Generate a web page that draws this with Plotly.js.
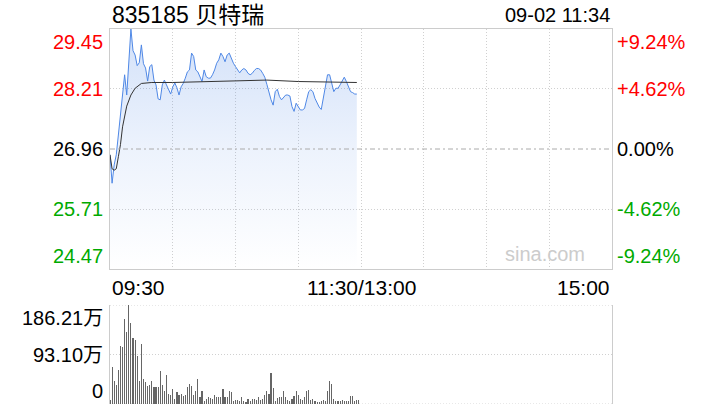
<!DOCTYPE html>
<html>
<head>
<meta charset="utf-8">
<script src="https://cdn.plot.ly/plotly-3.0.1.min.js"></script>
<style>
html,body{margin:0;padding:0;background:#fff;}
#chart{width:720px;height:420px;}
</style>
</head>
<body>
<div id="chart"></div>
<script>
// ---- data ----
const titleText = "835185 贝特瑞";
const stampText = "09-02 11:34";
const timeLabels = ["09:30", "11:30/13:00", "15:00"];
const priceTicks = [29.45, 28.21, 26.96, 25.71, 24.47];
const pctTicks = ["+9.24%", "+4.62%", "0.00%", "-4.62%", "-9.24%"];
const volTicks = [186.21, 93.10, 0];
const volTickLabels = ["186.21万", "93.10万", "0"];
const prevClose = 26.96;

const price = [26.84,26.25,26.63,26.84,27.25,27.67,28.15,28.5,28.08,28.84,
  29.45,29.0,28.91,28.69,28.75,29.12,28.73,28.64,28.37,28.67,
  28.71,28.39,28.29,28.0,27.98,28.29,28.39,28.29,28.18,28.1,
  28.25,28.33,28.23,28.08,28.25,28.32,28.43,28.56,28.6,28.95,
  28.88,28.6,28.56,28.46,28.36,28.6,28.46,28.43,28.43,28.5,
  28.6,28.74,28.81,28.95,28.88,28.77,28.91,28.95,28.84,28.74,
  28.67,28.6,28.54,28.6,28.63,28.6,28.53,28.5,28.53,28.59,
  28.63,28.63,28.6,28.53,28.45,28.3,28.12,27.98,27.87,28.15,
  28.2,28.05,27.98,28.03,28.08,28.08,28.06,27.84,27.74,27.91,
  27.83,27.77,27.77,27.8,27.98,28.15,28.19,28.15,28.01,27.91,
  27.83,27.78,28.05,28.29,28.5,28.5,28.32,28.15,28.22,28.22,
  28.29,28.36,28.45,28.36,28.25,28.15,28.13,28.1,28.1];

const avgMinutes = [0,1,2,3,4,5,6,7,8,10,12,15,20,30,45,60,75,90,105,118];
const avgPrice = [26.84,26.55,26.52,26.55,26.8,27.05,27.42,27.65,27.85,28.08,28.22,28.32,28.34,28.34,28.36,28.385,28.39,28.36,28.35,28.34];

const volume = [8.1,68.8,42.5,35,64.4,109.4,107.5,160,136.3,186.2,
  152.5,123.8,120.6,89.4,43.8,113.1,47.5,41.3,33.1,35.6,
  42.5,31.3,32.5,32.5,62.5,36.3,25,55,18.8,17.5,
  28.8,10,23.1,16.9,19.4,14.4,16.3,32.5,37.5,33.1,
  16.3,24.4,47.5,13.8,23.8,6.3,10,13.8,11.3,10,
  16.3,13.8,13.8,13.8,28.8,13.8,13.8,23.8,21.9,6.3,
  6.9,8.1,6.3,13.8,6.3,3.8,8.8,6.3,8.8,10,
  8.1,13.8,8.1,8.8,16.3,25,18.8,58.8,30,6.3,
  11.3,13.8,13.8,23.8,13.8,8.1,6.3,9.4,15.6,25,
  16.3,9.4,8.1,12.5,23.8,26.9,8.1,8.8,5,3.1,
  3.8,6.3,6.9,6.3,23.8,43.8,37.5,9.4,5,6.3,
  5,8.1,5,5,6.3,15.6,15.6,6.3,6.9,8.1];

// ---- build ----
const minutes = price.map((_, i) => i);
const volMinutes = volume.map((_, i) => i);
const RED = "#f00", GREEN = "#0a0", BLACK = "#000";
const FONT = "Liberation Sans, Arial, Noto Sans CJK SC, sans-serif";
const labelColors = [RED, RED, BLACK, GREEN, GREEN];
const GRID = "#d0d0d0";
const DOTS = "1px,2px";

const traces = [
  {
    x: minutes, y: price, type: "scatter", mode: "lines",
    line: {color: "#4f88e6", width: 1},
    fill: "tozeroy",
    fillgradient: {
      type: "vertical",
      start: priceTicks[4], stop: priceTicks[0],
      colorscale: [[0, "rgba(70,130,230,0.0)"], [0.5, "rgba(70,130,230,0.1)"], [1, "rgba(70,130,230,0.24)"]]
    },
    hoverinfo: "skip", xaxis: "x", yaxis: "y"
  },
  {
    x: avgMinutes, y: avgPrice, type: "scatter", mode: "lines",
    line: {color: "#333", width: 1},
    hoverinfo: "skip", xaxis: "x", yaxis: "y"
  },
  {
    x: volMinutes, y: volume, type: "bar",
    marker: {color: "#666", line: {width: 0}},
    width: 0.55,
    hoverinfo: "skip", xaxis: "x2", yaxis: "y2"
  }
];

const annotations = [];
priceTicks.forEach((v, i) => {
  const ya = i === 0 ? "top" : (i === priceTicks.length - 1 ? "bottom" : "middle");
  annotations.push({xref: "paper", yref: "y", x: 0, y: v, xanchor: "right", yanchor: ya, xshift: -5,
    text: v.toFixed(2), showarrow: false, font: {family: FONT, size: 20, color: labelColors[i]}});
  annotations.push({xref: "paper", yref: "y", x: 1, y: v, xanchor: "left", yanchor: ya, xshift: 3,
    text: pctTicks[i], showarrow: false, font: {family: FONT, size: 20, color: labelColors[i]}});
});
volTicks.forEach((v, i) => {
  const ya = i === 0 ? "top" : (i === volTicks.length - 1 ? "bottom" : "middle");
  annotations.push({xref: "paper", yref: "y2", x: 0, y: v, xanchor: "right", yanchor: ya, xshift: -5,
    text: volTickLabels[i], showarrow: false, font: {family: FONT, size: 20, color: BLACK}});
});
const tl = [[0, "left"], [0.5, "center"], [1, "right"]];
timeLabels.forEach((t, i) => {
  annotations.push({xref: "paper", yref: "paper", x: tl[i][0], y: 1 - 287/420, xanchor: tl[i][1], yanchor: "middle",
    text: t, showarrow: false, font: {family: FONT, size: 21, color: BLACK}});
});
annotations.push({xref: "paper", yref: "paper", x: 0, y: 1 - 15/420, xanchor: "left", yanchor: "middle",
  text: titleText, showarrow: false, font: {family: FONT, size: 23, color: BLACK}});
annotations.push({xref: "paper", yref: "paper", x: 1, y: 1 - 15/420, xanchor: "right", yanchor: "middle",
  text: stampText, showarrow: false, font: {family: FONT, size: 20, color: BLACK}});
annotations.push({xref: "paper", yref: "paper", x: (545 - 110) / 502, y: 1 - 254/420, xanchor: "center", yanchor: "middle",
  text: "sina.com", showarrow: false, font: {family: FONT, size: 20, color: "#ccc"}});

const shapes = [
  {type: "line", xref: "paper", yref: "y", x0: 0, x1: 1, y0: prevClose, y1: prevClose, layer: "above",
    line: {color: "#aaa", width: 1, dash: "5px,3px,2px,3px"}},
];
volTicks.forEach(v => {
  shapes.push({type: "line", xref: "paper", yref: "y2", x0: 0, x1: 1, y0: v, y1: v, layer: "below",
    line: {color: GRID, width: 1, dash: DOTS}});
});

const layout = {
  width: 720, height: 420,
  margin: {l: 110, r: 108, t: 0, b: 0, pad: 0},
  paper_bgcolor: "#fff", plot_bgcolor: "#fff",
  showlegend: false, hovermode: false,
  xaxis: {domain: [0, 1], anchor: "y", range: [0, 240], tickvals: [30, 60, 90, 120, 150, 180, 210],
    showticklabels: false, ticks: "", showgrid: true, gridcolor: GRID, griddash: DOTS, gridwidth: 1,
    zeroline: false, showline: true, mirror: true, linecolor: "#ccc", linewidth: 1, fixedrange: true},
  yaxis: {domain: [1 - 269/420, 1 - 29/420], anchor: "x", range: [priceTicks[4], priceTicks[0]],
    tickvals: [priceTicks[1], priceTicks[3]], showticklabels: false, ticks: "",
    showgrid: true, gridcolor: GRID, griddash: DOTS, gridwidth: 1,
    zeroline: false, showline: true, mirror: true, linecolor: "#ccc", linewidth: 1, fixedrange: true},
  xaxis2: {domain: [0, 1], anchor: "y2", range: [0, 240], showticklabels: false, ticks: "", showgrid: false,
    zeroline: false, showline: false, fixedrange: true},
  yaxis2: {domain: [1 - 404/420, 1 - 305/420], anchor: "x2", range: [0, volTicks[0]], showticklabels: false,
    ticks: "", showgrid: false, zeroline: false, showline: true, mirror: true, linecolor: "#ccc", linewidth: 1,
    fixedrange: true},
  bargap: 0,
  annotations: annotations,
  shapes: shapes
};

Plotly.newPlot("chart", traces, layout, {staticPlot: true, displayModeBar: false});
</script>
</body>
</html>
